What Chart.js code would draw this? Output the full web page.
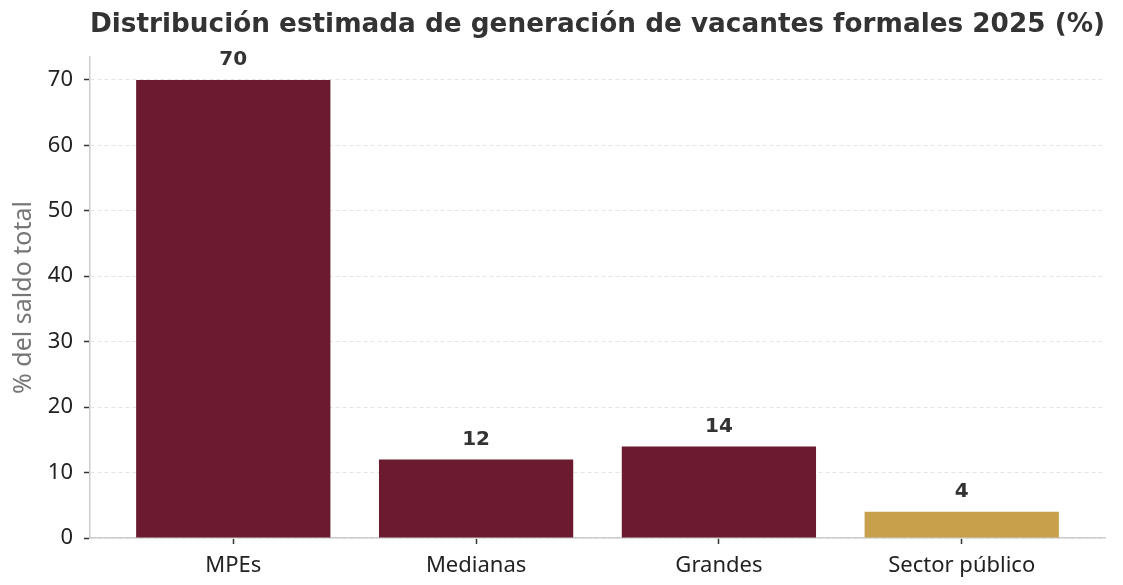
<!DOCTYPE html>
<html>
<head>
<meta charset="utf-8">
<script src="https://cdn.jsdelivr.net/npm/chart.js@4/dist/chart.umd.min.js"></script>
<style>
  html, body { margin: 0; padding: 0; background: #fff; }
  #wrap { width: 1123px; height: 585px; }
</style>
</head>
<body>
<div id="wrap"><canvas id="vacantes-chart"></canvas></div>
<script>
const categories = ['MPEs', 'Medianas', 'Grandes', 'Sector público'];
const shares = [70, 12, 14, 4];
const barColors = ['#6b1a2f', '#6b1a2f', '#6b1a2f', '#c89f4b'];
const yTicks = [0, 10, 20, 30, 40, 50, 60, 70];

const tickFont = { family: 'Noto Sans', size: 22 };

// labels above each bar
const valueLabels = {
    id: 'valueLabels',
    afterDatasetsDraw(chart) {
        const ctx = chart.ctx;
        const meta = chart.getDatasetMeta(0);
        ctx.save();
        ctx.font = 'bold 20px "DejaVu Sans"';
        ctx.fillStyle = '#333333';
        ctx.textAlign = 'center';
        ctx.textBaseline = 'bottom';
        meta.data.forEach((bar, i) => {
            ctx.fillText(String(shares[i]), bar.x, bar.y - 10);
        });
        ctx.restore();
    }
};

const ctx = document.getElementById('vacantes-chart').getContext('2d');
const chart = new Chart(ctx, {
    type: 'bar',
    data: {
        datasets: [{
            data: shares.map((v, i) => ({ x: i, y: v })),
            backgroundColor: barColors,
            barPercentage: 0.8,
            categoryPercentage: 1.0,
            borderWidth: 0
        }]
    },
    options: {
        responsive: true,
        maintainAspectRatio: false,
        animation: false,
        layout: { padding: { left: 0, right: 18, top: 0, bottom: 0 } },
        plugins: {
            legend: { display: false },
            tooltip: { enabled: false },
            title: {
                display: true,
                fullSize: false,
                text: 'Distribución estimada de generación de vacantes formales 2025 (%)',
                color: '#333333',
                font: { family: 'DejaVu Sans', size: 27, weight: 'bold' },
                padding: { top: 9, bottom: 15.6 }
            }
        },
        scales: {
            x: {
                type: 'linear',
                min: -0.59,
                max: 3.59,
                offset: false,
                afterBuildTicks: axis => {
                    axis.ticks = categories.map((c, i) => ({ value: i }));
                },
                afterFit: scale => { scale.height = 47; },
                ticks: {
                    color: '#222222',
                    font: tickFont,
                    padding: 9,
                    callback: v => categories[v]
                },
                grid: {
                    offset: false,
                    drawOnChartArea: false,
                    drawTicks: true,
                    tickLength: 6,
                    tickColor: '#333333',
                    tickWidth: 1.5
                },
                border: { color: '#cccccc', width: 1.5 }
            },
            y: {
                min: 0,
                max: 73.5,
                afterBuildTicks: axis => {
                    axis.ticks = yTicks.map(v => ({ value: v }));
                },
                afterFit: scale => { scale.width = 90; },
                ticks: {
                    color: '#222222',
                    font: tickFont,
                    padding: 11
                },
                grid: {
                    color: '#e6e6e6',
                    lineWidth: 1,
                    tickLength: 6,
                    tickColor: '#333333',
                    tickWidth: 1.5,
                    tickBorderDash: []
                },
                border: { color: '#cccccc', width: 1.5, dash: [4, 3] },
                title: {
                    display: true,
                    text: '% del saldo total',
                    color: '#777777',
                    font: { family: 'Noto Sans', size: 25 },
                    padding: { top: 9, bottom: 4 }
                }
            }
        }
    },
    plugins: [valueLabels]
});
</script>
</body>
</html>
